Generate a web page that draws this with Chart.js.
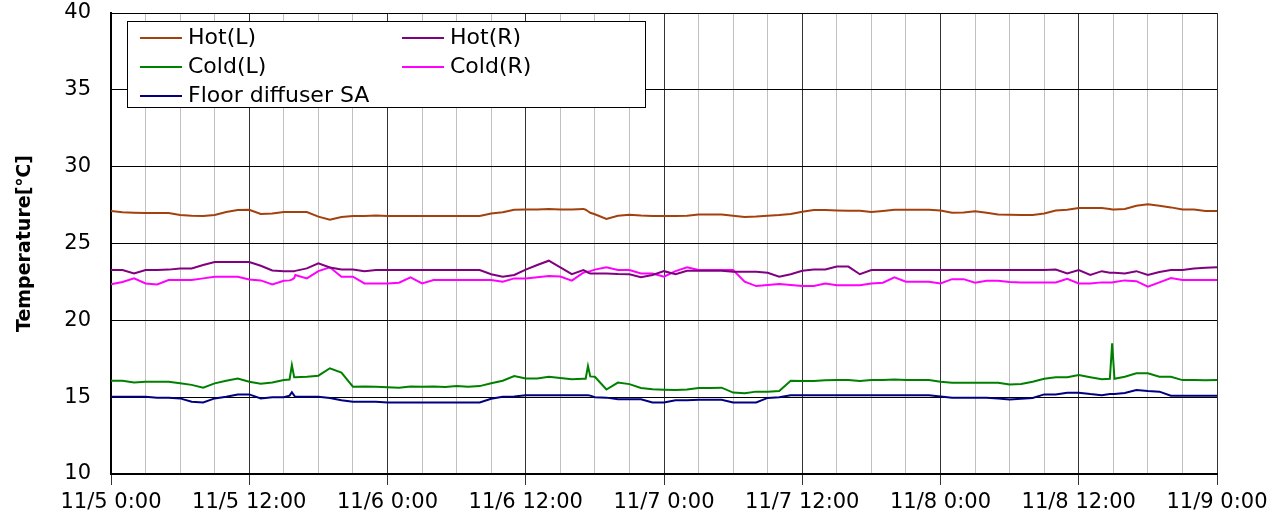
<!DOCTYPE html>
<html>
<head>
<meta charset="utf-8">
<script src="https://cdn.jsdelivr.net/npm/chart.js@4.4.1/dist/chart.umd.min.js"></script>
<style>
  body { margin: 0; background: #fff; }
  #wrap { width: 1273px; height: 522px; position: relative; }
</style>
</head>
<body>
<div id="wrap"><canvas id="myChart"></canvas></div>
<script>
// hours since 11/5 0:00
var hours = [
    0, 1, 2, 3, 4, 5, 6, 7, 8, 9, 10, 11,
    12, 13, 14, 15, 15.5, 15.7, 15.9, 16, 17, 18, 19, 20, 21, 22, 23,
    24, 25, 26, 27, 28, 29, 30, 31, 32, 33, 34, 35,
    36, 37, 38, 39, 40, 41, 41.2, 41.4, 41.6, 42, 43, 44, 45, 46, 47,
    48, 49, 50, 51, 52, 53, 54, 55, 56, 57, 58, 59,
    60, 61, 62, 63, 64, 65, 66, 67, 68, 69, 70, 71,
    72, 73, 74, 75, 76, 77, 78, 79, 80, 81, 82, 83,
    84, 85, 86, 86.7, 86.9, 87.1, 88, 89, 90, 91, 92, 93, 94, 95,
    96
];

var xLabels = ["11/5 0:00", "11/5 12:00", "11/6 0:00", "11/6 12:00", "11/7 0:00",
    "11/7 12:00", "11/8 0:00", "11/8 12:00", "11/9 0:00"];

var hotL = [
    27.11, 27.03, 27.0, 26.98, 26.98, 26.98, 26.85, 26.81, 26.79, 26.85, 27.05, 27.18,
    27.2, 26.92, 26.95, 27.05, 27.05, 27.05, 27.05, 27.05, 27.05, 26.75, 26.55, 26.72, 26.79, 26.79, 26.82,
    26.79, 26.79, 26.79, 26.79, 26.79, 26.79, 26.79, 26.79, 26.79, 26.95, 27.03, 27.2,
    27.22, 27.22, 27.25, 27.22, 27.22, 27.25, 27.2, 27.1, 27.0, 26.9, 26.6, 26.8, 26.87, 26.82, 26.79,
    26.79, 26.79, 26.8, 26.89, 26.89, 26.89, 26.81, 26.72, 26.75, 26.81, 26.85, 26.92,
    27.07, 27.18, 27.18, 27.15, 27.13, 27.13, 27.05, 27.12, 27.2, 27.2, 27.2, 27.2,
    27.15, 27.0, 27.02, 27.1, 27.0, 26.89, 26.87, 26.85, 26.85, 26.95, 27.15, 27.2,
    27.31, 27.31, 27.31, 27.25, 27.22, 27.22, 27.25, 27.46, 27.55, 27.45, 27.35, 27.22, 27.22, 27.12,
    27.11
];

var hotR = [
    23.27, 23.27, 23.05, 23.27, 23.27, 23.3, 23.38, 23.38, 23.6, 23.79, 23.79, 23.79,
    23.79, 23.55, 23.25, 23.2, 23.2, 23.2, 23.2, 23.22, 23.38, 23.71, 23.44, 23.31, 23.31, 23.2, 23.27,
    23.27, 23.27, 23.27, 23.27, 23.27, 23.27, 23.27, 23.27, 23.27, 23.0, 22.84, 22.95,
    23.3, 23.6, 23.88, 23.45, 23.01, 23.27, 23.2, 23.1, 23.05, 23.05, 23.05, 23.01, 23.0, 22.8, 22.95,
    23.2, 23.0, 23.23, 23.23, 23.23, 23.23, 23.16, 23.16, 23.16, 23.1, 22.84, 23.0,
    23.23, 23.31, 23.31, 23.5, 23.5, 23.0, 23.27, 23.27, 23.27, 23.27, 23.27, 23.27,
    23.27, 23.27, 23.27, 23.27, 23.27, 23.27, 23.27, 23.27, 23.27, 23.27, 23.3, 23.05,
    23.27, 22.95, 23.2, 23.1, 23.1, 23.1, 23.05, 23.2, 22.95, 23.15, 23.27, 23.27, 23.38, 23.42,
    23.45
];

var coldL = [
    16.07, 16.07, 15.96, 16.0, 16.0, 16.0, 15.9, 15.8, 15.62, 15.9, 16.07, 16.22,
    16.0, 15.88, 15.95, 16.11, 16.15, 17.09, 16.3, 16.3, 16.33, 16.4, 16.88, 16.6, 15.68, 15.7, 15.68,
    15.65, 15.62, 15.7, 15.68, 15.7, 15.66, 15.72, 15.68, 15.72, 15.9, 16.07, 16.38,
    16.22, 16.22, 16.33, 16.25, 16.16, 16.2, 16.2, 17.03, 16.35, 16.33, 15.5, 15.95, 15.85, 15.6, 15.51,
    15.48, 15.46, 15.5, 15.6, 15.6, 15.62, 15.3, 15.25, 15.36, 15.36, 15.4, 16.07,
    16.05, 16.05, 16.1, 16.11, 16.11, 16.05, 16.11, 16.11, 16.15, 16.11, 16.11, 16.11,
    16.0, 15.94, 15.94, 15.94, 15.94, 15.94, 15.83, 15.85, 16.0, 16.2, 16.29, 16.3,
    16.44, 16.3, 16.16, 16.2, 18.5, 16.2, 16.33, 16.55, 16.55, 16.33, 16.33, 16.11, 16.11, 16.1,
    16.11
];

var coldR = [
    22.34, 22.5, 22.73, 22.4, 22.34, 22.62, 22.62, 22.62, 22.73, 22.84, 22.84, 22.84,
    22.66, 22.6, 22.34, 22.58, 22.6, 22.65, 22.75, 22.95, 22.73, 23.2, 23.45, 22.84, 22.84, 22.4, 22.4,
    22.4, 22.45, 22.8, 22.4, 22.62, 22.62, 22.62, 22.62, 22.62, 22.62, 22.51, 22.73,
    22.73, 22.8, 22.88, 22.85, 22.58, 23.1, 23.16, 23.16, 23.2, 23.3, 23.45, 23.27, 23.27, 23.05, 23.05,
    22.84, 23.2, 23.45, 23.27, 23.27, 23.27, 23.27, 22.51, 22.23, 22.3, 22.36, 22.3,
    22.23, 22.23, 22.4, 22.28, 22.28, 22.28, 22.4, 22.45, 22.8, 22.51, 22.51, 22.51,
    22.4, 22.68, 22.68, 22.45, 22.58, 22.58, 22.5, 22.47, 22.47, 22.47, 22.47, 22.7,
    22.4, 22.4, 22.47, 22.47, 22.47, 22.5, 22.6, 22.55, 22.19, 22.47, 22.75, 22.62, 22.62, 22.62,
    22.62
];

var floorSA = [
    15.03, 15.03, 15.03, 15.03, 14.97, 14.97, 14.92, 14.7, 14.66, 14.92, 15.03, 15.18,
    15.18, 14.92, 15.0, 15.0, 15.1, 15.32, 15.1, 15.03, 15.03, 15.03, 14.95, 14.8, 14.7, 14.7, 14.7,
    14.66, 14.66, 14.66, 14.66, 14.66, 14.66, 14.66, 14.66, 14.66, 14.9, 15.03, 15.05,
    15.13, 15.13, 15.13, 15.13, 15.13, 15.13, 15.13, 15.13, 15.1, 15.0, 14.97, 14.86, 14.86, 14.86, 14.66,
    14.66, 14.8, 14.8, 14.83, 14.83, 14.83, 14.66, 14.66, 14.66, 14.95, 15.0, 15.13,
    15.13, 15.13, 15.13, 15.13, 15.13, 15.13, 15.13, 15.13, 15.13, 15.13, 15.13, 15.13,
    15.05, 14.97, 14.97, 14.97, 14.97, 14.92, 14.85, 14.9, 14.95, 15.18, 15.18, 15.29,
    15.29, 15.2, 15.13, 15.2, 15.2, 15.2, 15.27, 15.46, 15.4, 15.36, 15.1, 15.1, 15.1, 15.1,
    15.1
];

var seriesNames = ["Hot(L)", "Hot(R)", "Cold(L)", "Cold(R)", "Floor diffuser SA"];
var seriesColors = ["#a3410e", "#800080", "#008000", "#ff00ff", "#000080"];
var seriesValues = [hotL, hotR, coldL, coldR, floorSA];

var FONT = "'DejaVu Sans', sans-serif";

function toPoints(vals) {
    return hours.map(function (h, i) { return { x: h, y: vals[i] }; });
}

// legend box drawn inside the plot, like the original
var boxLegend = {
    id: "boxLegend",
    afterDraw: function (chart) {
        var c = chart.ctx;
        var x0 = 127, y0 = 21, w = 518, h = 86;
        c.save();
        c.fillStyle = "#fff";
        c.fillRect(x0, y0, w, h);
        c.strokeStyle = "#000";
        c.lineWidth = 1;
        c.strokeRect(x0 + 0.5, y0 + 0.5, w, h);
        c.font = "22px " + FONT;
        c.textBaseline = "middle";
        c.fillStyle = "#000";
        chart.data.datasets.forEach(function (ds, i) {
            var col = i % 2, row = Math.floor(i / 2);
            var lx = col === 0 ? 140 : 402;
            var ly = 38 + row * 29;
            c.strokeStyle = ds.borderColor;
            c.lineWidth = 2;
            c.beginPath();
            c.moveTo(lx, ly);
            c.lineTo(lx + 42, ly);
            c.stroke();
            c.fillText(ds.label, lx + 48, ly);
        });
        c.restore();
    }
};

var ctx = document.getElementById("myChart");

var myChart = new Chart(ctx, {
    type: "line",
    data: {
        datasets: seriesNames.map(function (name, i) {
            return {
                label: name,
                data: toPoints(seriesValues[i]),
                borderColor: seriesColors[i],
                backgroundColor: seriesColors[i],
                borderWidth: 2,
                pointRadius: 0,
                fill: false,
                lineTension: 0
            };
        })
    },
    options: {
        responsive: true,
        maintainAspectRatio: false,
        animation: false,
        layout: { padding: { left: 0, right: 56, top: 13, bottom: 0 } },
        plugins: {
            legend: { display: false },
            tooltip: { enabled: false }
        },
        scales: {
            x: {
                type: "linear",
                min: 0,
                max: 96,
                afterFit: function (scale) {
                    scale.height = 48;
                    scale.paddingLeft = 0;
                    scale.paddingRight = 0;
                },
                ticks: {
                    stepSize: 3,
                    autoSkip: false,
                    maxRotation: 0,
                    padding: 5,
                    color: "#000",
                    font: { family: FONT, size: 21 },
                    callback: function (v) {
                        return v % 12 === 0 ? xLabels[v / 12] : "";
                    }
                },
                grid: {
                    color: function (c) {
                        return c.tick && c.tick.value % 12 === 0 ? "#333" : "#c0c0c0";
                    },
                    tickColor: function (c) {
                        return c.tick && c.tick.value % 12 === 0 ? "#333" : "rgba(0,0,0,0)";
                    },
                    tickLength: 11,
                    lineWidth: 1
                },
                border: { color: "#000", width: 2 }
            },
            y: {
                min: 10,
                max: 40,
                afterFit: function (scale) {
                    scale.width = 111;
                    scale.paddingTop = 0;
                    scale.paddingBottom = 0;
                },
                ticks: {
                    stepSize: 5,
                    padding: 20,
                    color: "#000",
                    font: { family: FONT, size: 21 }
                },
                grid: {
                    color: "#000",
                    drawTicks: false,
                    lineWidth: 1
                },
                border: { color: "#000", width: 2 },
                title: {
                    display: true,
                    text: "Temperature[℃]",
                    color: "#000",
                    font: { family: FONT, size: 19, weight: "bold" },
                    padding: { top: 14, bottom: 0 }
                }
            }
        }
    },
    plugins: [boxLegend]
});
</script>
</body>
</html>
